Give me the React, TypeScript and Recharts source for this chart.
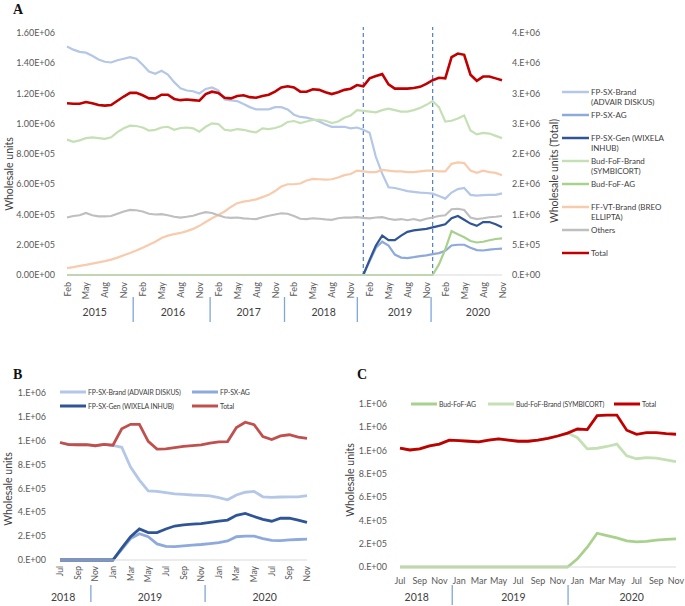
import React from "react";
import { LineChart, Line, XAxis, YAxis, ReferenceLine } from "recharts";

const FONT = "Lato, 'Open Sans', Arial, sans-serif";
const TXT = "#595959";
const MONTHS = ["Jan", "Feb", "Mar", "Apr", "May", "Jun", "Jul", "Aug", "Sep", "Oct", "Nov", "Dec"];

// category keys like "2015-02"
function monthKeys(year: number, month: number, count: number) {
  const out: string[] = [];
  for (let k = 0; k < count; k++) {
    const m = month - 1 + k;
    const y = year + Math.floor(m / 12);
    out.push(`${y}-${String((m % 12) + 1).padStart(2, "0")}`);
  }
  return out;
}

// ---------- Panel A: Feb 2015 - Nov 2020 (units of 1e5, total in 1e6) ----------
const monthsA = monthKeys(2015, 2, 70);

const fpBrandA = [
  15.1, 14.9, 14.75, 14.7, 14.5, 14.25, 14.1, 14.05, 14.2, 14.3,
  14.4, 14.3, 13.9, 13.45, 13.3, 13.5, 13.25, 12.75, 12.35, 12.2,
  12.15, 12.0, 12.3, 12.4, 12.2, 11.6, 11.55, 11.5, 11.3, 11.1,
  10.95, 10.95, 10.95, 11.1, 11.1, 10.95, 10.6, 10.45, 10.4, 10.3,
  10.15, 9.95, 9.8, 9.8, 9.8, 9.7, 9.75, 9.6, 9.4, 7.8,
  6.7, 5.8, 5.75, 5.65, 5.55, 5.5, 5.45, 5.42, 5.38, 5.22,
  5.05, 5.45, 5.68, 5.75, 5.3, 5.25, 5.28, 5.3, 5.3, 5.4,
];
const fpAgA = [
  0, 0, 0, 0, 0, 0, 0, 0, 0, 0,
  0, 0, 0, 0, 0, 0, 0, 0, 0, 0,
  0, 0, 0, 0, 0, 0, 0, 0, 0, 0,
  0, 0, 0, 0, 0, 0, 0, 0, 0, 0,
  0, 0, 0, 0, 0, 0, 0, 0, 0.9, 1.8,
  2.2, 1.95, 1.35, 1.15, 1.12, 1.18, 1.25, 1.3, 1.38, 1.45,
  1.6, 1.95, 2.0, 2.0, 1.8, 1.65, 1.62, 1.68, 1.72, 1.75,
];
const fpGenA = [
  0, 0, 0, 0, 0, 0, 0, 0, 0, 0,
  0, 0, 0, 0, 0, 0, 0, 0, 0, 0,
  0, 0, 0, 0, 0, 0, 0, 0, 0, 0,
  0, 0, 0, 0, 0, 0, 0, 0, 0, 0,
  0, 0, 0, 0, 0, 0, 0, 0, 1.0, 1.95,
  2.6, 2.3, 2.3, 2.6, 2.85, 2.95, 3.0, 3.05, 3.15, 3.25,
  3.35, 3.75, 3.9, 3.65, 3.4, 3.25, 3.5, 3.5, 3.35, 3.15,
];
const budBrandA = [
  8.95, 8.8, 8.9, 9.05, 9.1, 9.05, 9.0, 9.1, 9.45, 9.7,
  9.87, 9.85, 9.75, 9.55, 9.6, 9.75, 9.8, 9.6, 9.72, 9.75,
  9.7, 9.48, 9.8, 10.03, 9.98, 9.6, 9.55, 9.65, 9.6, 9.5,
  9.43, 9.7, 9.65, 9.72, 9.85, 10.12, 10.18, 10.05, 10.15, 10.25,
  10.25, 10.2, 10.05, 10.15, 10.4, 10.55, 10.9, 10.85, 10.8, 10.75,
  10.9, 11.0, 10.9, 10.8, 10.8, 10.9, 11.05, 11.25, 11.5, 11.1,
  10.15, 10.2, 10.35, 10.55, 9.55, 9.3, 9.4, 9.35, 9.2, 9.05,
];
const budAgA = [
  0, 0, 0, 0, 0, 0, 0, 0, 0, 0,
  0, 0, 0, 0, 0, 0, 0, 0, 0, 0,
  0, 0, 0, 0, 0, 0, 0, 0, 0, 0,
  0, 0, 0, 0, 0, 0, 0, 0, 0, 0,
  0, 0, 0, 0, 0, 0, 0, 0, 0, 0,
  0, 0, 0, 0, 0, 0, 0, 0, 0, 0.7,
  1.7, 2.9, 2.7, 2.5, 2.25, 2.15, 2.2, 2.3, 2.38, 2.42,
];
const ffvtA = [
  0.45, 0.52, 0.6, 0.67, 0.75, 0.83, 0.92, 1.02, 1.15, 1.3,
  1.45, 1.62, 1.8, 2.0, 2.2, 2.45, 2.6, 2.7, 2.78, 2.9,
  3.05, 3.25, 3.5, 3.75, 3.97, 4.2, 4.5, 4.75, 4.85, 4.92,
  5.0, 5.15, 5.3, 5.55, 5.85, 6.0, 6.0, 6.05, 6.25, 6.35,
  6.33, 6.3, 6.33, 6.45, 6.6, 6.68, 6.9, 6.85, 6.8, 6.8,
  6.95, 6.9, 6.85, 6.85, 6.8, 6.8, 6.85, 6.9, 6.9, 6.85,
  6.85, 7.35, 7.45, 7.4, 6.9, 6.75, 6.9, 6.8, 6.75, 6.6,
];
const othersA = [
  3.8, 3.9, 3.95, 4.1, 3.95, 3.88, 3.87, 3.9, 4.05, 4.2,
  4.3, 4.28, 4.2, 4.05, 4.0, 4.02, 3.95, 3.85, 3.8, 3.85,
  3.92, 4.05, 4.15, 4.1, 3.95, 3.82, 3.78, 3.8, 3.75, 3.72,
  3.7, 3.82, 3.92, 4.0, 4.08, 4.05, 3.9, 3.72, 3.7, 3.75,
  3.72, 3.68, 3.65, 3.75, 3.8, 3.8, 3.82, 3.78, 3.75, 3.8,
  3.82, 3.72, 3.65, 3.7, 3.62, 3.7, 3.6, 3.72, 3.8, 3.9,
  3.95, 4.35, 4.38, 4.3, 3.8, 3.7, 3.75, 3.82, 3.85, 3.9,
];
const totalA = [
  2.84, 2.83, 2.83, 2.86, 2.84, 2.81, 2.8, 2.81, 2.88, 2.95,
  3.01, 3.01, 2.97, 2.92, 2.92, 2.98, 2.98, 2.91, 2.89, 2.9,
  2.89, 2.88, 2.99, 3.03, 3.01, 2.93, 2.92, 2.96, 2.97, 2.94,
  2.93, 2.96, 2.98, 3.03, 3.1, 3.12, 3.1, 3.03, 3.03, 3.07,
  3.06, 3.02, 2.99, 3.02, 3.06, 3.08, 3.14, 3.12, 3.25, 3.29,
  3.32, 3.15, 3.08, 3.08, 3.08, 3.09, 3.11, 3.16, 3.22, 3.26,
  3.25, 3.6, 3.66, 3.64, 3.31, 3.21, 3.28, 3.28, 3.25, 3.22,
];

const ticksLeftA = [0, 2, 4, 6, 8, 10, 12, 14, 16];
const labelsLeftA = ["0.00E+00", "2.00E+05", "4.00E+05", "6.00E+05", "8.00E+05", "1.00E+06", "1.20E+06", "1.40E+06", "1.60E+06"];
const ticksRightA = [0, 0.5, 1, 1.5, 2, 2.5, 3, 3.5, 4];
const labelsRightA = ["0.E+00", "5.E+05", "1.E+06", "2.E+06", "2.E+06", "3.E+06", "3.E+06", "4.E+06", "4.E+06"];
const yearsA = ["2015", "2016", "2017", "2018", "2019", "2020"];
const launchesA = ["2019-01", "2019-12"];

// ---------- Panels B and C: Jul 2018 - Nov 2020 (units of 1e5) ----------
const monthsBC = monthKeys(2018, 7, 29);

const fpBrandB = [
  9.85, 9.68, 9.66, 9.68, 9.58, 9.69, 9.6, 9.45, 7.8, 6.7,
  5.8, 5.75, 5.65, 5.55, 5.5, 5.45, 5.42, 5.38, 5.22, 5.05,
  5.45, 5.68, 5.75, 5.3, 5.25, 5.28, 5.3, 5.3, 5.4,
];
const fpAgB = [
  0, 0, 0, 0, 0, 0, 0, 0.9, 1.8, 2.2,
  1.95, 1.35, 1.15, 1.12, 1.18, 1.25, 1.3, 1.38, 1.45, 1.6,
  1.95, 2.0, 2.0, 1.8, 1.65, 1.62, 1.68, 1.72, 1.75,
];
const fpGenB = [
  0, 0, 0, 0, 0, 0, 0, 1.0, 1.95, 2.6,
  2.3, 2.3, 2.6, 2.85, 2.95, 3.0, 3.05, 3.15, 3.25, 3.35,
  3.75, 3.9, 3.65, 3.4, 3.25, 3.5, 3.5, 3.35, 3.15,
];
const totalB = [
  9.85, 9.68, 9.66, 9.68, 9.58, 9.69, 9.62, 11.0, 11.37, 11.37,
  9.95, 9.3, 9.32, 9.42, 9.52, 9.58, 9.65, 9.8, 9.9, 9.93,
  11.1, 11.55, 11.35, 10.35, 10.1, 10.4, 10.5, 10.3, 10.2,
];

const budAgC = [
  0, 0, 0, 0, 0, 0, 0, 0, 0, 0,
  0, 0, 0, 0, 0, 0, 0, 0, 0.7, 1.7,
  2.9, 2.7, 2.5, 2.25, 2.15, 2.2, 2.3, 2.38, 2.42,
];
const budBrandC = [
  10.2, 10.05, 10.15, 10.4, 10.55, 10.9, 10.85, 10.8, 10.75, 10.9,
  11.0, 10.9, 10.8, 10.8, 10.9, 11.05, 11.25, 11.5, 11.1, 10.15,
  10.2, 10.35, 10.55, 9.55, 9.3, 9.4, 9.35, 9.2, 9.05,
];
const totalC = [
  10.2, 10.05, 10.15, 10.4, 10.55, 10.9, 10.85, 10.8, 10.75, 10.9,
  11.0, 10.9, 10.8, 10.8, 10.9, 11.05, 11.25, 11.5, 11.85, 11.8,
  13.0, 13.05, 13.05, 11.75, 11.4, 11.55, 11.55, 11.45, 11.4,
];

const ticksBC = [0, 2, 4, 6, 8, 10, 12, 14];
const labelsBC = ["0.E+00", "2.E+05", "4.E+05", "6.E+05", "8.E+05", "1.E+06", "1.E+06", "1.E+06"];
const yearsBC = ["2018", "2019", "2020"];

// ---------- tables ----------
const rowsA = monthsA.map((m, i) => ({
  m,
  fpBrand: fpBrandA[i],
  fpAg: fpAgA[i],
  fpGen: fpGenA[i],
  budBrand: budBrandA[i],
  budAg: budAgA[i],
  ffvt: ffvtA[i],
  others: othersA[i],
  total: totalA[i],
}));
const rowsB = monthsBC.map((m, i) => ({ m, fpBrand: fpBrandB[i], fpAg: fpAgB[i], fpGen: fpGenB[i], total: totalB[i] }));
const rowsC = monthsBC.map((m, i) => ({ m, budAg: budAgC[i], budBrand: budBrandC[i], total: totalC[i] }));

const seriesA = [
  { key: "fpBrand", color: "#B4C7E7", label: ["FP-SX-Brand", "(ADVAIR DISKUS)"] },
  { key: "fpAg", color: "#8EA9DB", label: ["FP-SX-AG"] },
  { key: "fpGen", color: "#2F5597", label: ["FP-SX-Gen (WIXELA", "INHUB)"] },
  { key: "budBrand", color: "#C5E0B4", label: ["Bud-FoF-Brand", "(SYMBICORT)"] },
  { key: "budAg", color: "#A9D18E", label: ["Bud-FoF-AG"] },
  { key: "ffvt", color: "#F8CBAD", label: ["FF-VT-Brand (BREO", "ELLIPTA)"] },
  { key: "others", color: "#BFBFBF", label: ["Others"] },
  { key: "total", color: "#C00000", label: ["Total"] },
];
const seriesB = [
  { key: "fpBrand", color: "#B4C7E7", label: "FP-SX-Brand (ADVAIR DISKUS)", lx: 60, ly: 392 },
  { key: "fpAg", color: "#8EA9DB", label: "FP-SX-AG", lx: 192, ly: 392 },
  { key: "fpGen", color: "#2F5597", label: "FP-SX-Gen (WIXELA INHUB)", lx: 60, ly: 406 },
  { key: "total", color: "#C0504D", label: "Total", lx: 192, ly: 406 },
];
const seriesC = [
  { key: "budAg", color: "#A9D18E", label: "Bud-FoF-AG", lx: 411, ly: 404 },
  { key: "budBrand", color: "#C5E0B4", label: "Bud-FoF-Brand (SYMBICORT)", lx: 488, ly: 404 },
  { key: "total", color: "#C00000", label: "Total", lx: 614, ly: 404 },
];

type AxisCfg = {
  every: number;
  rotate: boolean;
  step: number;
  monthDy: number;
  monthSize: number;
  yearDy: number;
  divTop: number;
  divBot: number;
  years: string[];
  yearAt: number[];
  dividers: number[];
};

const axisA: AxisCfg = {
  every: 3, rotate: true, step: 435 / 69, monthDy: 7, monthSize: 9, yearDy: 37, divTop: 22, divBot: 47,
  years: yearsA, yearAt: [4.4, 16.8, 28.8, 40.7, 52.8, 65.2], dividers: [10.5, 22.7, 34.5, 46.05, 57.75],
};
const axisB: AxisCfg = {
  every: 2, rotate: true, step: 247 / 28, monthDy: 6, monthSize: 8.5, yearDy: 37, divTop: 25, divBot: 42,
  years: yearsBC, yearAt: [0.35, 10.2, 23.2], dividers: [3.5, 16.45],
};
const axisC: AxisCfg = {
  every: 2, rotate: false, step: 276 / 28, monthDy: 13, monthSize: 9, yearDy: 30, divTop: 18, divBot: 38,
  years: yearsBC, yearAt: [1.7, 11.5, 23.5], dividers: [5.3, 17.05],
};

function MonthTick(props: any) {
  const { x, y, index, payload, cfg } = props;
  const c = cfg as AxisCfg;
  const key: string = String(payload.value);
  const name = MONTHS[Number(key.slice(5)) - 1];
  const xAt = (f: number) => x + (f - index) * c.step;
  const my = y + c.monthDy;
  return (
    <g>
      {index % c.every === 0 &&
        (c.rotate ? (
          <text x={x} y={my} transform={`rotate(-90 ${x} ${my})`} textAnchor="end" dominantBaseline="central"
            fontSize={c.monthSize} fill={TXT} fontFamily={FONT}>
            {name}
          </text>
        ) : (
          <text x={x} y={my} textAnchor="middle" dominantBaseline="central" fontSize={c.monthSize} fill={TXT} fontFamily={FONT}>
            {name}
          </text>
        ))}
      {index === 0 &&
        c.years.map((yr, k) => (
          <text key={yr} x={xAt(c.yearAt[k])} y={y + c.yearDy} textAnchor="middle" dominantBaseline="central"
            fontSize={10.5} fill="#404040" fontFamily={FONT}>
            {yr}
          </text>
        ))}
      {index === 0 &&
        c.dividers.map((d) => (
          <line key={d} x1={xAt(d)} x2={xAt(d)} y1={y + c.divTop} y2={y + c.divBot} stroke="#7FA7D9" strokeWidth={1.3} />
        ))}
    </g>
  );
}

const yTick = { fontSize: 9, fill: TXT, fontFamily: FONT };

function Title({ x, y, text }: { x: number; y: number; text: string }) {
  return (
    <text x={x} y={y} transform={`rotate(-90 ${x} ${y})`} textAnchor="middle" dominantBaseline="central"
      fontSize={10.5} fill="#404040" fontFamily={FONT}>
      {text}
    </text>
  );
}

export default function App() {
  return (
    <div style={{ position: "absolute", left: 0, top: 0, width: 685, height: 606, background: "#fff" }}>
      {/* Panel A */}
      <div style={{ position: "absolute", left: 0, top: 0 }}>
        <LineChart width={547} height={330} data={rowsA} margin={{ top: 33, right: 0, bottom: 0, left: 0 }}>
          <XAxis dataKey="m" interval={0} height={55} tickLine={false} tickSize={0} tickMargin={0}
            axisLine={{ stroke: "#D9D9D9" }} tick={(p: any) => <MonthTick {...p} cfg={axisA} />} />
          <YAxis yAxisId="left" width={67} domain={[0, 16]} ticks={ticksLeftA} interval={0}
            tickFormatter={(v: number) => labelsLeftA[ticksLeftA.indexOf(v)]}
            axisLine={false} tickLine={false} tickSize={0} tickMargin={12} tick={yTick} />
          <YAxis yAxisId="right" orientation="right" width={45} domain={[0, 4]} ticks={ticksRightA} interval={0}
            tickFormatter={(v: number) => labelsRightA[ticksRightA.indexOf(v)]}
            axisLine={false} tickLine={false} tickSize={0} tickMargin={10} tick={yTick} />
          {launchesA.map((d) => (
            <ReferenceLine key={d} yAxisId="left" ifOverflow="visible"
              segment={[{ x: d, y: 0 }, { x: d, y: 16.4 }]}
              stroke="#4F81BD" strokeDasharray="4 3" strokeWidth={1.2} />
          ))}
          {seriesA.map((s) => (
            <Line key={s.key} yAxisId={s.key === "total" ? "right" : "left"} dataKey={s.key} type="linear"
              stroke={s.color} strokeWidth={s.key === "total" ? 2.6 : 2.2} dot={false} activeDot={false}
              isAnimationActive={false} />
          ))}
        </LineChart>
      </div>

      {/* Panel B */}
      <div style={{ position: "absolute", left: 0, top: 340 }}>
        <LineChart width={340} height={266} data={rowsB} margin={{ top: 53, right: 33, bottom: 0, left: 0 }}>
          <XAxis dataKey="m" interval={0} height={46} tickLine={false} tickSize={0} tickMargin={0}
            axisLine={{ stroke: "#D9D9D9" }} tick={(p: any) => <MonthTick {...p} cfg={axisB} />} />
          <YAxis width={60} domain={[0, 14]} ticks={ticksBC} interval={0}
            tickFormatter={(v: number) => labelsBC[ticksBC.indexOf(v)]}
            axisLine={false} tickLine={false} tickSize={0} tickMargin={14} tick={yTick} />
          {seriesB.map((s) => (
            <Line key={s.key} dataKey={s.key} type="linear" stroke={s.color} strokeWidth={2.8} dot={false}
              activeDot={false} isAnimationActive={false} />
          ))}
        </LineChart>
      </div>

      {/* Panel C */}
      <div style={{ position: "absolute", left: 340, top: 340 }}>
        <LineChart width={345} height={266} data={rowsC} margin={{ top: 64, right: 9, bottom: 0, left: 0 }}>
          <XAxis dataKey="m" interval={0} height={39} tickLine={false} tickSize={0} tickMargin={0}
            axisLine={{ stroke: "#D9D9D9" }} tick={(p: any) => <MonthTick {...p} cfg={axisC} />} />
          <YAxis width={60} domain={[0, 14]} ticks={ticksBC} interval={0}
            tickFormatter={(v: number) => labelsBC[ticksBC.indexOf(v)]}
            axisLine={false} tickLine={false} tickSize={0} tickMargin={13} tick={yTick} />
          {seriesC.map((s) => (
            <Line key={s.key} dataKey={s.key} type="linear" stroke={s.color} strokeWidth={2.8} dot={false}
              activeDot={false} isAnimationActive={false} />
          ))}
        </LineChart>
      </div>

      {/* titles, panel letters and legends */}
      <svg width={685} height={606} style={{ position: "absolute", left: 0, top: 0, pointerEvents: "none" }}>
        <g fontFamily="'Liberation Serif', 'Times New Roman', serif" fontWeight="bold" fontSize={14} fill="#111">
          <text x={13} y={14}>A</text>
          <text x={13} y={379}>B</text>
          <text x={357} y={379}>C</text>
        </g>
        <Title x={9} y={174} text="Wholesale units" />
        <Title x={554} y={171} text="Wholesale units (Total)" />
        <Title x={8} y={489} text="Wholesale units" />
        <Title x={350} y={480} text="Wholesale units" />

        {seriesA.map((s, k) => {
          const ly = 92 + k * 23;
          return (
            <g key={s.key}>
              <line x1={562} x2={589} y1={ly} y2={ly} stroke={s.color} strokeWidth={2.5} />
              {s.label.map((t, j) => (
                <text key={j} x={591} y={ly + j * 9.5} dominantBaseline="central" fontSize={8} fill="#404040" fontFamily={FONT}>
                  {t}
                </text>
              ))}
            </g>
          );
        })}
        {[...seriesB, ...seriesC].map((s) => (
          <g key={s.label + s.lx}>
            <line x1={s.lx} x2={s.lx + 26} y1={s.ly} y2={s.ly} stroke={s.color} strokeWidth={3} />
            <text x={s.lx + 28} y={s.ly} dominantBaseline="central" fontSize={6.9} letterSpacing={-0.1}
              fill="#404040" fontFamily={FONT}>
              {s.label}
            </text>
          </g>
        ))}
      </svg>
    </div>
  );
}
